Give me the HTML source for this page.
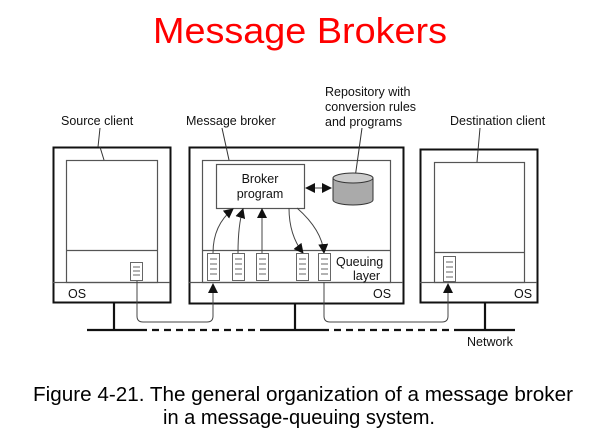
<!DOCTYPE html>
<html><head><style>body{margin:0;background:#fff}svg{display:block}</style></head><body>
<svg width="600" height="431" viewBox="0 0 600 431" xmlns="http://www.w3.org/2000/svg" font-family="Liberation Sans, sans-serif">
<defs><marker id="a" viewBox="0 0 10 10" refX="9" refY="5" markerWidth="10" markerHeight="10" markerUnits="userSpaceOnUse" orient="auto-start-reverse"><path d="M0,0L10,5L0,10z" fill="#111"/></marker>
<g id="q" fill="none" stroke="#666" stroke-width="1"><rect x="0.5" y="0.5" width="12" height="27"/><path d="M3 6H10M3 11H10M3 16H10M3 21H10"/></g>
</defs>
<text x="300" y="43" font-size="36" fill="#f00" text-anchor="middle" textLength="294" lengthAdjust="spacingAndGlyphs">Message Brokers</text>
<g fill="none" stroke="#111">
<rect x="53.5" y="147.5" width="117" height="155" stroke-width="2"/>
<rect x="189.5" y="147.5" width="214" height="156" stroke-width="2"/>
<rect x="420.5" y="149.5" width="117" height="153" stroke-width="2"/>
<g stroke="#555" stroke-width="1.2">
<rect x="66.5" y="160.5" width="91" height="122"/><line x1="66" y1="250.5" x2="157" y2="250.5"/>
<line x1="53" y1="282.5" x2="170" y2="282.5"/>
<rect x="202.5" y="160.5" width="188" height="122"/><line x1="202" y1="250.5" x2="390" y2="250.5"/>
<line x1="189" y1="282.5" x2="403" y2="282.5"/>
<rect x="434.5" y="162.5" width="90" height="120"/><line x1="434" y1="252.5" x2="524" y2="252.5"/>
<line x1="420" y1="282.5" x2="537" y2="282.5"/>
<rect x="216.5" y="164.5" width="88" height="44"/>
</g>
<g stroke-width="2.2"><line x1="114" y1="303" x2="114" y2="330"/><line x1="295" y1="304" x2="295" y2="330"/><line x1="485" y1="303" x2="485" y2="330"/>
<line x1="87" y1="330" x2="140" y2="330"/><line x1="140" y1="330" x2="265" y2="330" stroke-dasharray="7 5"/><line x1="265" y1="330" x2="322" y2="330"/><line x1="322" y1="330" x2="460" y2="330" stroke-dasharray="7 5"/><line x1="460" y1="330" x2="515" y2="330"/></g>
<g stroke="#444" stroke-width="1">
<path d="M137 281V316q0 6 6 6H207q6 0 6-6V284" marker-end="url(#a)"/>
<path d="M324 282V316q0 6 6 6H442q6 0 6-6V284" marker-end="url(#a)"/>
<path d="M213 253Q213 225 233 209" marker-end="url(#a)"/>
<path d="M238 253Q238 225 243 209" marker-end="url(#a)"/>
<path d="M262 253V209" marker-end="url(#a)"/>
<path d="M289 208Q289 235 303 253" marker-end="url(#a)"/>
<path d="M297 208Q322 230 324 253" marker-end="url(#a)"/>
<path d="M306 188H331" marker-start="url(#a)" marker-end="url(#a)"/>
<path d="M100 128L98 147M100 147L104 160M222 128L229 160M362 128L355 178M480 128L477 162" stroke="#333"/>
</g>
</g>
<g fill="none" stroke="#666"><rect x="130.5" y="262.5" width="12" height="18"/><path d="M133 267H140M133 271H140M133 275H140"/>
<rect x="443.5" y="256.5" width="12" height="25"/><path d="M446 262H453M446 267H453M446 272H453M446 277H453"/></g>
<use href="#q" x="207" y="253"/><use href="#q" x="232" y="253"/><use href="#q" x="256" y="253"/><use href="#q" x="296" y="253"/><use href="#q" x="318" y="253"/>
<path d="M333 178v22a20 5 0 0 0 40 0v-22" fill="#aaa" stroke="#333"/>
<ellipse cx="353" cy="178" rx="20" ry="5" fill="#ccc" stroke="#333"/>
<g font-size="12.5" fill="#111">
<text x="61" y="125">Source client</text>
<text x="186" y="125">Message broker</text>
<text x="325" y="96">Repository with</text><text x="325" y="111">conversion rules</text><text x="325" y="126">and programs</text>
<text x="450" y="125">Destination client</text>
<text x="260" y="183" text-anchor="middle">Broker</text><text x="260" y="198" text-anchor="middle">program</text>
<text x="336" y="266">Queuing</text><text x="353" y="280">layer</text>
<text x="68" y="298">OS</text><text x="373" y="298">OS</text><text x="514" y="298">OS</text>
<text x="467" y="346">Network</text>
</g>
<g font-size="20" fill="#000" text-anchor="middle">
<text x="303" y="401" textLength="540" lengthAdjust="spacingAndGlyphs">Figure 4-21. The general organization of a message broker</text>
<text x="299" y="424" textLength="272" lengthAdjust="spacingAndGlyphs">in a message-queuing system.</text>
</g>
</svg>
</body></html>
